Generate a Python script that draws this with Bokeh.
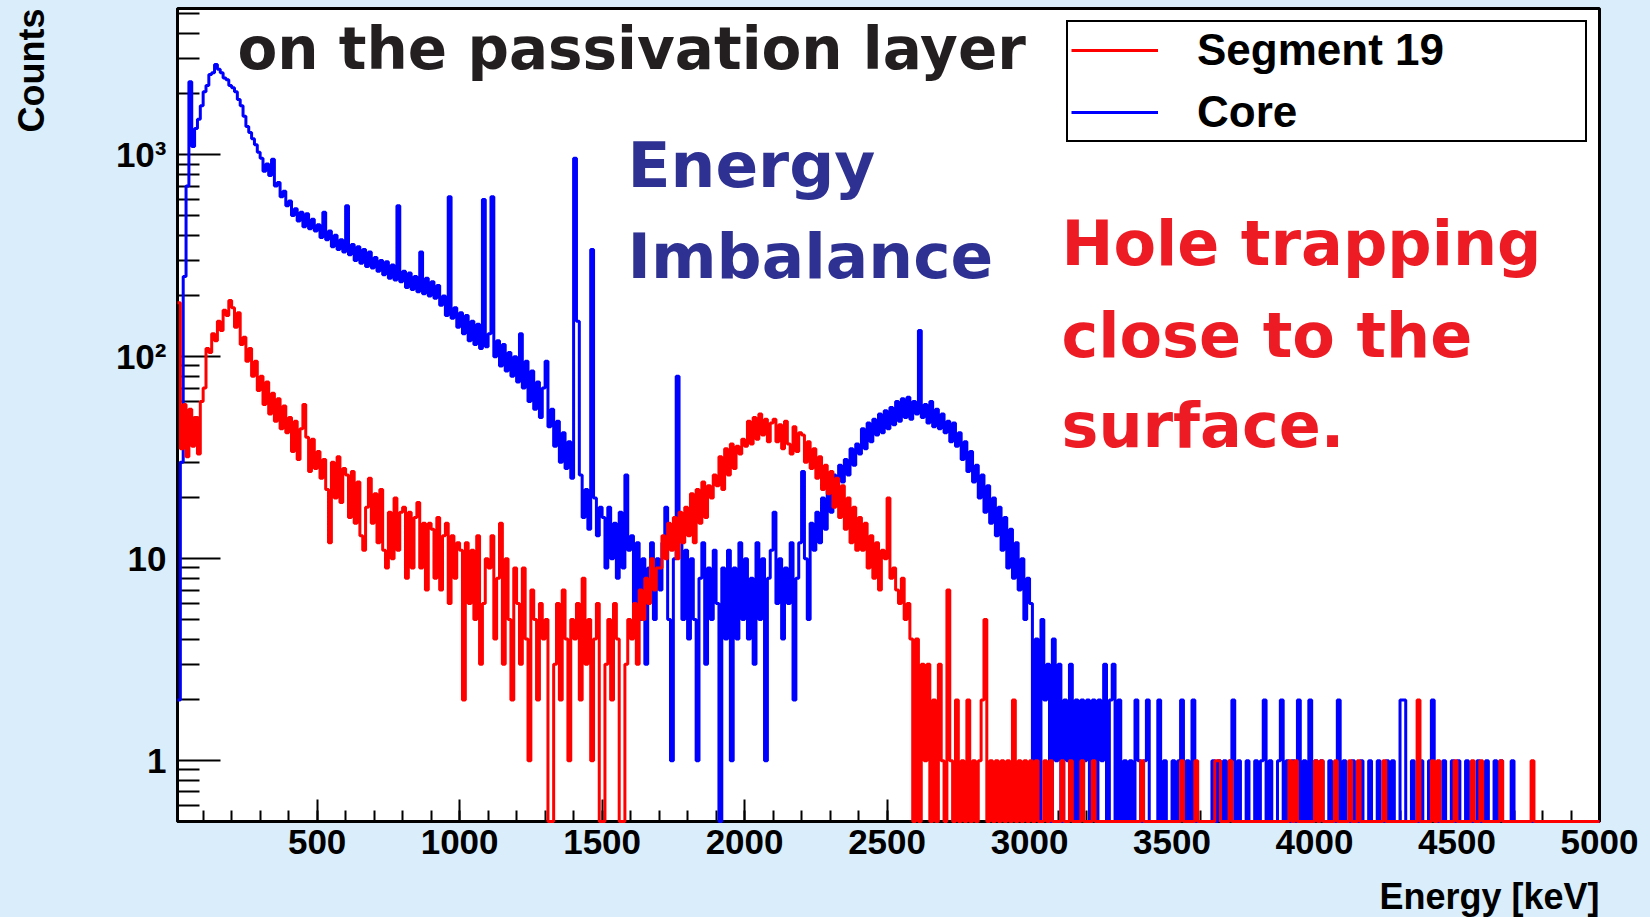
import numpy as np
from bokeh.plotting import figure
from bokeh.layouts import row, column
from bokeh.models import (SingleIntervalTicker, FixedTicker, Label, Legend,
                          LegendItem, ColumnDataSource, Title)
from bokeh.embed import file_html
from bokeh.resources import INLINE

# ---------------- data (10 keV bins, first bin starts at 10 keV) ----------------
E_MIN = 10.0
E_MAX = 5000.0
BIN_WIDTH = 10.0

core_counts = [
    2, 30, 250, 700, 2300, 1100, 1350, 1500, 1750,                 # 10-100
    2050, 2200, 2500, 2550, 2800, 2650, 2550, 2400, 2350, 2200,    # 100
    2150, 2050, 1880, 1750, 1550, 1380, 1290, 1200, 1120, 1030,    # 200
    960, 830, 900, 790, 950, 700, 730, 620, 660, 560,              # 300
    590, 500, 540, 470, 520, 440, 510, 430, 480, 420,              # 400
    450, 390, 520, 380, 420, 350, 400, 340, 380, 330,              # 500
    560, 320, 360, 300, 350, 290, 340, 280, 330, 275,              # 600
    310, 265, 300, 255, 295, 245, 285, 240, 560, 235,              # 700
    265, 220, 260, 215, 250, 210, 330, 205, 245, 200,              # 800
    235, 195, 225, 180, 200, 160, 620, 155, 175, 140,              # 900
    165, 130, 160, 120, 150, 115, 145, 110, 600, 112,              # 1000
    130, 620, 100, 120, 90, 115, 85, 105, 80, 100,                 # 1100
    75, 130, 70, 95, 60, 85, 55, 75, 50, 70,                       # 1200
    95, 45, 55, 36, 48, 30, 42, 28, 38, 25,                        # 1300
    960, 150, 26, 16, 22, 14, 340, 20, 13, 18,                     # 1400
    16, 9, 18, 10, 15, 8, 17, 9, 26, 11,                           # 1500
    13, 6, 12, 5, 10, 3, 9, 12, 5, 10,                             # 1600
    7, 12, 18, 5, 1, 10, 80, 14, 5, 11,                            # 1700
    4, 10, 5, 1, 8, 12, 3, 9, 5, 11,                               # 1800
    6, 0, 9, 4, 11, 1, 9, 4, 12, 5,                                # 1900
    10, 4, 8, 3, 12, 5, 10, 1, 8, 11,                              # 2000
    17, 6, 10, 4, 9, 6, 12, 2, 8, 12,                              # 2100
    27, 10, 5, 15, 11, 17, 12, 20, 14, 22,                         # 2200
    17, 26, 19, 29, 24, 31, 26, 35, 29, 37,                        # 2300
    33, 44, 35, 47, 38, 49, 41, 52, 42, 54,                        # 2400
    44, 56, 46, 60, 48, 62, 50, 63, 49, 60,                        # 2500
    52, 135, 50, 58, 47, 60, 45, 55, 44, 52,                       # 2600
    42, 48, 38, 47, 36, 42, 31, 38, 27, 34,                        # 2700
    24, 29, 20, 26, 17, 23, 15, 20, 13, 18,                        # 2800
    11, 16, 9, 14, 8, 12, 7, 10, 5, 8,                             # 2900
    6, 1, 4, 0, 5, 2, 3, 0, 4, 1,                                  # 3000
    3, 0, 2, 1, 3, 0, 2, 0, 2, 1,                                  # 3100
    2, 0, 2, 0, 2, 1, 3, 0, 2, 3,                                  # 3200
    0, 2, 0, 1, 0, 1, 0, 2, 1, 0,                                  # 3300
    1, 2, 0, 0, 0, 2, 0, 1, 0, 0,                                  # 3400
    1, 0, 1, 2, 0, 1, 0, 2, 0, 0,                                  # 3500
    0, 0, 0, 0, 1, 0, 1, 0, 1, 0,                                  # 3600
    1, 2, 0, 1, 0, 0, 1, 0, 0, 1,                                  # 3700
    0, 1, 2, 0, 1, 0, 0, 1, 2, 0,                                  # 3800
    1, 0, 1, 0, 2, 0, 1, 0, 2, 0,                                  # 3900
    1, 0, 1, 0, 0, 1, 0, 0, 2, 0,                                  # 4000
    1, 0, 0, 1, 0, 0, 1, 0, 0, 1,                                  # 4100
    0, 0, 1, 0, 0, 1, 0, 1, 0, 0,                                  # 4200
    2, 2, 0, 0, 1, 0, 0, 1, 0, 0,                                  # 4300
    1, 2, 0, 0, 0, 1, 0, 0, 1, 0,                                  # 4400
    1, 0, 0, 1, 0, 0, 0, 1, 0, 0,                                  # 4500
    1, 0, 0, 1, 0, 1, 0, 0, 0, 1,                                  # 4600
    0, 0, 0, 0, 0, 0, 0, 0, 0, 0,                                  # 4700
    0, 0, 0, 0, 0, 0, 0, 0, 0, 0,                                  # 4800
    0, 0, 0, 0, 0, 0, 0, 0, 0, 0,                                  # 4900
]

segment19_counts = [
    185, 35, 58, 32, 55, 36, 50, 33, 60,                           # 10-100
    70, 110, 105, 130, 120, 150, 135, 170, 160, 190,               # 100
    175, 140, 165, 115, 125, 95, 110, 80, 95, 68,                  # 200
    80, 58, 75, 52, 66, 48, 62, 44, 57, 42,                        # 300
    50, 34, 48, 31, 44, 58, 40, 27, 39, 28,                        # 400
    34, 25, 31, 22, 12, 30, 20, 32, 19, 28,                        # 500
    26, 16, 27, 15, 24, 13, 11, 18, 25, 15,                        # 600
    21, 12, 22, 11, 9, 17, 10, 20, 11, 17,                         # 700
    18, 8, 17, 9, 16, 19, 9, 15, 7, 15,                            # 800
    14, 8, 16, 7, 13, 15, 6, 13, 8, 12,                            # 900
    11, 2, 12, 6, 11, 5, 13, 3, 6, 10,                             # 1000
    9, 13, 4, 8, 15, 3, 10, 5, 2, 9,                               # 1100
    6, 3, 9, 4, 1, 7, 5, 2, 6, 4,                                  # 1200
    5, 0, 0, 3, 6, 2, 7, 4, 1, 5,                                  # 1300
    4, 6, 2, 8, 3, 5, 1, 4, 6, 0,                                  # 1400
    0, 3, 5, 2, 6, 4, 0, 0, 3, 5,                                  # 1500
    4, 6, 3, 7, 5, 8, 6, 10, 7, 9,                                 # 1600
    9, 13, 10, 15, 11, 16, 10, 17, 12, 18,                         # 1700
    13, 21, 12, 22, 15, 24, 16, 23, 20, 26,                        # 1800
    23, 32, 22, 35, 26, 37, 28, 36, 33, 39,                        # 1900
    36, 48, 37, 50, 39, 52, 41, 49, 38, 47,                        # 2000
    49, 38, 46, 35, 48, 37, 33, 45, 34, 42,                        # 2100
    41, 30, 38, 28, 35, 25, 32, 22, 29, 21,                        # 2200
    27, 18, 25, 16, 23, 14, 20, 12, 18, 11,                        # 2300
    16, 11, 15, 9, 13, 8, 12, 7, 11, 10,                           # 2400
    20, 8, 9, 7, 6, 8, 5, 6, 4, 0,                                 # 2500
    4, 0, 3, 1, 3, 0, 2, 0, 3, 1,                                  # 2600
    0, 7, 1, 0, 2, 0, 1, 0, 2, 0,                                  # 2700
    1, 0, 1, 2, 5, 0, 1, 0, 1, 0,                                  # 2800
    1, 0, 1, 0, 2, 0, 1, 0, 1, 0,                                  # 2900
    1, 0, 1, 0, 0, 1, 0, 1, 0, 0,                                  # 3000
    0, 1, 0, 0, 1, 0, 0, 0, 1, 0,                                  # 3100
    0, 0, 1, 0, 0, 0, 0, 0, 0, 0,                                  # 3200
    0, 0, 0, 0, 0, 0, 0, 0, 0, 1,                                  # 3300
    0, 0, 0, 0, 0, 0, 0, 0, 0, 0,                                  # 3400
    0, 0, 0, 1, 0, 0, 0, 0, 1, 0,                                  # 3500
    0, 0, 0, 0, 0, 1, 1, 0, 0, 0,                                  # 3600
    1, 0, 0, 0, 0, 0, 0, 0, 0, 0,                                  # 3700
    0, 0, 0, 0, 0, 0, 0, 0, 0, 0,                                  # 3800
    0, 1, 0, 1, 0, 0, 0, 0, 0, 0,                                  # 3900
    1, 0, 1, 0, 0, 0, 0, 1, 0, 0,                                  # 4000
    0, 0, 1, 0, 0, 1, 0, 0, 0, 0,                                  # 4100
    0, 0, 0, 0, 1, 0, 0, 0, 0, 0,                                  # 4200
    0, 0, 0, 0, 0, 0, 2, 0, 0, 0,                                  # 4300
    0, 1, 0, 1, 0, 0, 0, 0, 0, 1,                                  # 4400
    0, 0, 0, 0, 0, 1, 0, 0, 1, 0,                                  # 4500
    0, 0, 0, 0, 0, 1, 0, 0, 0, 0,                                  # 4600
    0, 0, 0, 0, 0, 0, 1, 0, 0, 0,                                  # 4700
    0, 0, 0, 0, 0, 0, 0, 0, 0, 0,                                  # 4800
    0, 0, 0, 0, 0, 0, 0, 0, 0, 0,                                  # 4900
]

assert len(core_counts) == len(segment19_counts) == 499

Y_MIN, Y_MAX = 0.5, 5300.0
y_major_ticks = [1, 10, 100, 1000]
y_tick_labels = {1: "1", 10: "10", 100: "10\u00b2", 1000: "10\u00b3"}
series_names = ["Segment 19", "Core"]
x_title = "Energy [keV]"
y_title = "Counts"

# ---------------- page geometry ----------------
PAGE_W, PAGE_H = 1650, 917
LEFT_W = 70          # strip holding the y title
BOTTOM_H = 40        # strip holding the x title
BG = "#D9EEFA"
LABEL_FONT = "Liberation Sans"


def strip(width, height):
    f = figure(width=width, height=height, x_range=(0, 1), y_range=(0, 1),
               x_axis_type=None, y_axis_type=None, output_backend="svg",
               toolbar_location=None, min_border=0)
    f.border_fill_color = BG
    f.background_fill_color = BG
    f.outline_line_color = None
    return f


# ---------------- main figure ----------------
p = figure(width=PAGE_W - LEFT_W, height=PAGE_H - BOTTOM_H,
           x_range=(E_MIN, E_MAX), y_range=(Y_MIN, Y_MAX),
           y_axis_type="log", output_backend="svg", toolbar_location=None,
           min_border_left=177 - LEFT_W, min_border_right=51, min_border_top=8,
           min_border_bottom=96 - BOTTOM_H)
p.border_fill_color = BG
p.background_fill_color = "white"
p.outline_line_color = "black"
p.outline_line_width = 3
p.grid.visible = False

edges = E_MIN + BIN_WIDTH * np.arange(len(core_counts) + 1)


def step_source(counts):
    c = np.asarray(counts, dtype=float)
    c = np.where(c > 0, c, Y_MIN)      # empty bins are drawn on the frame bottom
    return ColumnDataSource(dict(x=edges, y=np.append(c, c[-1])))


blue = p.step("x", "y", source=step_source(core_counts), mode="after",
              line_color="#0000FF", line_width=3, level="overlay")
red = p.step("x", "y", source=step_source(segment19_counts), mode="after",
             line_color="#FF0000", line_width=3, level="overlay")

xa = p.xaxis[0]
xa.ticker = SingleIntervalTicker(interval=500, num_minor_ticks=5)
ya = p.yaxis[0]
ya.ticker = FixedTicker(ticks=y_major_ticks,
                        minor_ticks=[m * d for d in (0.1, 1, 10, 100, 1000)
                                     for m in range(2, 10) if Y_MIN < m * d < Y_MAX])
ya.major_label_overrides = y_tick_labels

for ax in (xa, ya):
    ax.axis_line_width = 3
    ax.major_tick_out = 0
    ax.minor_tick_out = 0
    ax.major_tick_line_width = 2
    ax.minor_tick_line_width = 2
    ax.major_label_text_font = LABEL_FONT
    ax.major_label_text_font_style = "bold"
    ax.major_label_text_font_size = "35px"
    ax.major_label_text_color = "black"
xa.major_tick_in = 22
xa.minor_tick_in = 11
xa.major_label_standoff = 8
ya.major_tick_in = 43
ya.minor_tick_in = 22
ya.major_label_standoff = 11

# ---------------- legend ----------------
legend = Legend(items=[LegendItem(label=series_names[0], renderers=[red]),
                       LegendItem(label=series_names[1], renderers=[blue])],
                location="top_right", margin=12, padding=3, spacing=12,
                label_height=50, glyph_height=50, glyph_width=87,
                label_standoff=39, label_width=385,
                label_text_font=LABEL_FONT, label_text_font_style="bold",
                label_text_font_size="44px", label_text_color="black",
                border_line_color="black", border_line_width=2, border_line_alpha=1.0,
                background_fill_color="white", background_fill_alpha=1.0)
p.add_layout(legend)


# ---------------- texts ----------------
def add_label(fig, text, x, y, size, color, font="DejaVu Sans", align="left"):
    fig.add_layout(Label(x=x, y=y, x_units="screen", y_units="screen", text=text,
                         text_font=font, text_font_style="bold", text_font_size=size,
                         text_color=color, text_align=align, text_baseline="alphabetic"))


# positions are measured from the bottom-left corner of the plot frame
add_label(p, "on the passivation layer", 60, 773, "58px", "#231F20")
add_label(p, "Energy", 450, 656, "63px", "#2E3192")
add_label(p, "Imbalance", 450, 565, "63px", "#2E3192")
add_label(p, "Hole trapping", 884, 578, "62px", "#ED1C24")
add_label(p, "close to the", 884, 486, "62px", "#ED1C24")
add_label(p, "surface.", 884, 396, "62px", "#ED1C24")

# y title: vertical, top-aligned, in its own strip on the left
left = strip(LEFT_W, PAGE_H - BOTTOM_H)
left.add_layout(Title(text=y_title, align="right", vertical_align="top",
                      standoff=20, offset=0,
                      text_font=LABEL_FONT, text_font_style="bold",
                      text_font_size="36px", text_color="black"), "left")

# x title: right-aligned, in its own strip below
bottom = strip(PAGE_W, BOTTOM_H)
add_label(bottom, x_title, 1599, 21, "36px", "black", font=LABEL_FONT, align="right")

layout = column(row(left, p), bottom)

html = file_html(layout, INLINE)
html = html.replace("</head>", "<style>html, body { background: %s; margin: 0; }</style></head>" % BG, 1)
open("out.html", "w").write(html)
